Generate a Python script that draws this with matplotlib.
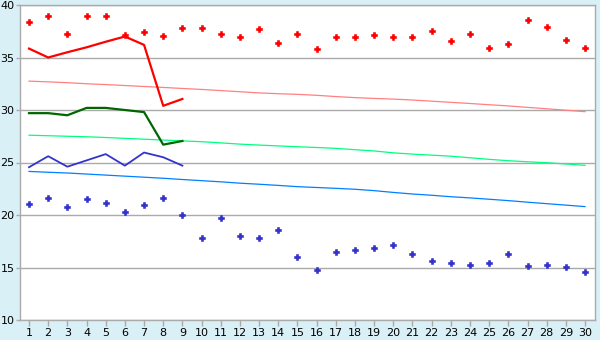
import numpy as np
import matplotlib
matplotlib.use('Agg')
import matplotlib.pyplot as plt

# =========================
# DONNEES
# =========================
days = list(range(1, 31))

# maxima journaliers (points rouges)
tmax_pts = [38.35, 38.95, 37.2, 38.95, 38.95, 37.1, 37.4, 37.05, 37.8, 37.8,
            37.2, 37.0, 37.7, 36.35, 37.2, 35.8, 37.0, 37.0, 37.1, 37.0,
            37.0, 37.5, 36.55, 37.2, 35.9, 36.25, 38.55, 37.9, 36.7, 35.95]
# minima journaliers (points bleus)
tmin_pts = [21.02, 21.59, 20.73, 21.5, 21.11, 20.26, 20.92, 21.59, 19.97, 17.78,
            19.68, 17.97, 17.78, 18.54, 15.97, 14.73, 16.45, 16.64, 16.83, 17.11,
            16.26, 15.59, 15.4, 15.21, 15.4, 16.26, 15.11, 15.21, 15.02, 14.54]

# mois en cours (jours 1 a 9)
cur_days = list(range(1, 10))
cur_max = [35.85, 35.0, 35.5, 35.97, 36.5, 37.0, 36.2, 30.4, 31.05]
cur_mean = [29.7, 29.7, 29.5, 30.2, 30.2, 30.0, 29.8, 26.7, 27.05]
cur_min = [24.55, 25.6, 24.6, 25.2, 25.8, 24.7, 25.95, 25.5, 24.7]

# normales
norm_max = [32.75, 32.68, 32.6, 32.5, 32.42, 32.33, 32.24, 32.15, 32.05, 31.96,
            31.85, 31.74, 31.63, 31.55, 31.49, 31.40, 31.28, 31.18, 31.1, 31.04,
            30.95, 30.84, 30.73, 30.62, 30.5, 30.39, 30.25, 30.12, 29.98, 29.84]
norm_mean = [27.6, 27.55, 27.5, 27.45, 27.38, 27.3, 27.22, 27.14, 27.06, 26.98,
             26.87, 26.75, 26.66, 26.58, 26.5, 26.43, 26.35, 26.22, 26.1, 25.92,
             25.8, 25.7, 25.6, 25.45, 25.3, 25.17, 25.07, 24.98, 24.86, 24.73]
norm_min = [24.15, 24.07, 24.0, 23.9, 23.8, 23.7, 23.6, 23.5, 23.38, 23.27,
            23.16, 23.03, 22.93, 22.82, 22.7, 22.62, 22.54, 22.45, 22.32, 22.15,
            22.0, 21.88, 21.74, 21.63, 21.5, 21.37, 21.22, 21.08, 20.94, 20.8]

y_ticks = [10, 15, 20, 25, 30, 35, 40]

# =========================
# FIGURE
# =========================
bg = '#D9F0F7'
grid_col = '#AAAAAA'

fig = plt.figure(figsize=(6, 3.4), dpi=100, facecolor=bg)
ax = fig.add_axes([20/600, 20/340, 575/600, 315/340])
ax.set_facecolor('white')

for y in y_ticks:
    ax.axhline(y, color=grid_col, linewidth=1.0, zorder=1)

ax.plot(days, norm_max, color='#FF8080', linewidth=0.9, zorder=2)
ax.plot(days, norm_mean, color='#00FF80', linewidth=0.9, zorder=2)
ax.plot(days, norm_min, color='#0080FF', linewidth=0.9, zorder=2)

ax.plot(cur_days, cur_max, color='#FF0000', linewidth=1.6, zorder=3)
ax.plot(cur_days, cur_mean, color='#006600', linewidth=1.6, zorder=3)
ax.plot(cur_days, cur_min, color='#3333CC', linewidth=1.3, zorder=3)

# points : croix pleine + petit losange au centre
for pts, col in [(tmax_pts, '#FF0000'), (tmin_pts, '#3333CC')]:
    ax.plot(days, pts, linestyle='none', marker='P', markersize=5,
            color=col, markeredgewidth=0.4, markeredgecolor=col, zorder=4)
    ax.plot(days, pts, linestyle='none', marker='D', markersize=2.6,
            color=col, markeredgewidth=0, zorder=4)

ax.set_xlim(0.53, 30.52)
ax.set_ylim(10, 40)
ax.set_xticks(days)
ax.set_yticks(y_ticks)
ax.tick_params(axis='both', labelsize=8, color=grid_col, length=4, width=1, pad=2)
ax.tick_params(axis='y', length=3, pad=1)

for s in ax.spines.values():
    s.set_color(grid_col)
    s.set_linewidth(1.0)

plt.savefig('out.png', dpi=100, facecolor=bg)
